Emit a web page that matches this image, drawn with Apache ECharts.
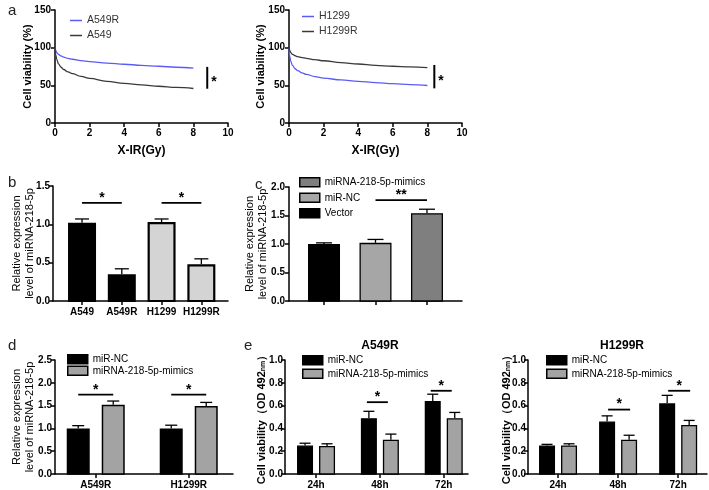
<!DOCTYPE html>
<html><head><meta charset="utf-8">
<script src="https://cdn.jsdelivr.net/npm/echarts@6/dist/echarts.min.js"></script>
<style>html,body{margin:0;padding:0;background:#fff}#c{width:709px;height:490px}</style>
</head><body><div id="c"></div>
<script>
// ---------- DATA ----------
// Panel a: dose (Gy) and cell viability (%)
const doseX = [0, 0.05, 0.1, 0.2, 0.35, 0.5, 0.75, 1, 1.5, 2, 3, 4, 5, 6, 7, 8];
const a549R = [100, 96, 93.5, 91, 89, 87.5, 85.8, 84.6, 82.8, 81.6, 79.6, 78, 76.6, 75.3, 74, 72.8];
const a549  = [100, 90, 84.5, 78.5, 74, 71, 67.8, 65.5, 61.8, 59.2, 55.3, 52.5, 50.5, 48.8, 47.2, 45.8];
const h1299 = [100, 88, 82, 76.5, 72, 69.5, 66.5, 64.5, 61.6, 59.6, 57.2, 55.3, 53.7, 52.3, 51, 49.8];
const h1299R = [100, 96, 93.5, 91, 89.3, 88, 86.8, 85.8, 84, 82.6, 80.2, 78.3, 76.6, 75.3, 74.4, 73.6];
const aSigLeft = [8.8, 74.5, 45.5];   // x, y top, y bottom
const aSigRight = [8.4, 77, 46];

// Panel b
const bCats = ['A549', 'A549R', 'H1299', 'H1299R'];
const bVals = [1.02, 0.35, 1.03, 0.48];
const bErr  = [0.05, 0.07, 0.04, 0.07];
const bSig  = [[1, 2, 1.28], [3, 4, 1.28]];

// Panel c
const cNames = ['Vector', 'miR-NC', 'miRNA-218-5p-mimics'];
const cVals = [1.0, 1.02, 1.54];
const cErr  = [0.02, 0.06, 0.07];
const cSig  = [[2, 3, 1.77]];

// Panel d
const dCats = ['A549R', 'H1299R'];
const dNC = [1.0, 1.0];
const dNCErr = [0.06, 0.07];
const dMim = [1.52, 1.49];
const dMimErr = [0.08, 0.08];
const dSig = [[1, 1, 1.74], [2, 2, 1.74]];

// Panel e
const eCats = ['24h', '48h', '72h'];
const eLeftNC = [0.25, 0.49, 0.64];
const eLeftNCErr = [0.02, 0.06, 0.06];
const eLeftMim = [0.245, 0.30, 0.49];
const eLeftMimErr = [0.02, 0.05, 0.05];
const eLeftSig = [[2, 2, 0.63], [3, 3, 0.73]];
const eRightNC = [0.25, 0.46, 0.62];
const eRightNCErr = [0.01, 0.05, 0.07];
const eRightMim = [0.25, 0.30, 0.43];
const eRightMimErr = [0.015, 0.04, 0.04];
const eRightSig = [[2, 2, 0.565], [3, 3, 0.73]];

// ---------- STYLE ----------
const FF = 'Liberation Sans, Arial, Helvetica, sans-serif';
const BLACK = '#000';
const BLUE = '#5b5bf5';
const DARK = '#3a3a3a';

function axisBase(margin) {
  return {
    axisLine: { show: true, lineStyle: { color: BLACK, width: 1.5 } },
    axisTick: { show: true, length: 4, lineStyle: { color: BLACK, width: 1.5 } },
    axisLabel: { color: BLACK, fontFamily: FF, fontWeight: 'bold', fontSize: 10, margin: margin },
    splitLine: { show: false }
  };
}
function yAxis(grid, max, interval, name, gap, bold, fmt, margin) {
  const a = axisBase(margin);
  return Object.assign(a, {
    type: 'value', gridIndex: grid, min: 0, max: max, interval: interval,
    name: name, nameLocation: 'middle', nameGap: gap, nameMoveOverlap: false,
    nameTextStyle: { color: BLACK, fontFamily: FF, fontWeight: bold ? 'bold' : 'normal', fontSize: 11, lineHeight: 12.5 },
    axisLabel: Object.assign(a.axisLabel, { formatter: fmt || null })
  });
}
function catValueAxis(grid, min, max, cats, showLabels) {
  const a = axisBase(6);
  const vals = cats.map((c, i) => i + 1);
  return Object.assign(a, {
    type: 'value', gridIndex: grid, min: min, max: max,
    axisTick: Object.assign(a.axisTick, { customValues: vals }),
    axisLabel: Object.assign(a.axisLabel, {
      show: showLabels, customValues: vals, fontSize: 10,
      formatter: v => cats[Math.round(v) - 1] || ''
    })
  });
}

function barRender(offset, width, capW, fill, bw) {
  return function (params, api) {
    const x = api.value(0), y = api.value(1), e = api.value(2);
    const top = api.coord([x, y]);
    const base = api.coord([x, 0]);
    const et = api.coord([x, y + e]);
    const cx = top[0] + offset;
    return {
      type: 'group', children: [
        { type: 'line', shape: { x1: cx, y1: top[1], x2: cx, y2: et[1] }, style: { stroke: BLACK, lineWidth: 1.3 } },
        { type: 'line', shape: { x1: cx - capW / 2, y1: et[1], x2: cx + capW / 2, y2: et[1] }, style: { stroke: BLACK, lineWidth: 1.3 } },
        { type: 'rect', shape: { x: cx - width / 2 + bw / 2, y: top[1] + bw / 2, width: width - bw, height: base[1] - top[1] - bw / 2 },
          style: { fill: fill, stroke: BLACK, lineWidth: bw } }
      ]
    };
  };
}
// one series, each value at category position i+1
function barSeries(name, grid, vals, errs, offset, width, capW, fill, bw) {
  return {
    type: 'custom', name: name, xAxisIndex: grid, yAxisIndex: grid,
    itemStyle: { color: fill, borderColor: BLACK, borderWidth: bw },
    encode: { x: 0, y: 1 },
    data: vals.map((v, i) => [i + 1, v, errs[i]]),
    renderItem: barRender(offset, width, capW, fill, bw), clip: false, silent: true
  };
}
// one series holding only the bar at category position idx+1
function singleBarSeries(name, grid, vals, errs, idx, width, capW, fill, bw) {
  return {
    type: 'custom', name: name, xAxisIndex: grid, yAxisIndex: grid,
    itemStyle: { color: fill, borderColor: BLACK, borderWidth: bw },
    encode: { x: 0, y: 1 },
    data: [[idx + 1, vals[idx], errs[idx]]],
    renderItem: barRender(0, width, capW, fill, bw), clip: false, silent: true
  };
}
function sigSeries(grid, data, off1, off2, label, fs) {
  return {
    type: 'custom', name: 'sig' + grid, xAxisIndex: grid, yAxisIndex: grid,
    encode: { x: [0, 1], y: 2 }, data: data, clip: false, silent: true,
    renderItem: function (params, api) {
      const p1 = api.coord([api.value(0), api.value(2)]);
      const p2 = api.coord([api.value(1), api.value(2)]);
      const x1 = p1[0] + off1, x2 = p2[0] + off2;
      return {
        type: 'group', children: [
          { type: 'line', shape: { x1: x1, y1: p1[1], x2: x2, y2: p1[1] }, style: { stroke: BLACK, lineWidth: 1.8 } },
          { type: 'text', style: { text: label, x: (x1 + x2) / 2, y: p1[1] + 2, align: 'center', verticalAlign: 'bottom',
            font: 'bold ' + (fs || 14) + 'px ' + FF, fill: BLACK } }
        ]
      };
    }
  };
}
function vSigSeries(grid, d) {
  return {
    type: 'custom', name: 'vsig' + grid, xAxisIndex: grid, yAxisIndex: grid,
    encode: { x: 0, y: [1, 2] }, data: [d], clip: false, silent: true,
    renderItem: function (params, api) {
      const p1 = api.coord([api.value(0), api.value(1)]);
      const p2 = api.coord([api.value(0), api.value(2)]);
      return {
        type: 'group', children: [
          { type: 'line', shape: { x1: p1[0], y1: p1[1], x2: p2[0], y2: p2[1] }, style: { stroke: BLACK, lineWidth: 2 } },
          { type: 'text', style: { text: '*', x: p1[0] + 4, y: (p1[1] + p2[1]) / 2 + 4, align: 'left', verticalAlign: 'middle',
            font: 'bold 14px ' + FF, fill: BLACK } }
        ]
      };
    }
  };
}
function lineSeries(name, grid, ys, color) {
  return {
    type: 'line', name: name, xAxisIndex: grid, yAxisIndex: grid, smooth: 0.4, smoothMonotone: 'x',
    symbol: 'none', lineStyle: { color: color, width: 1.3 }, itemStyle: { color: color },
    data: doseX.map((x, i) => [x, ys[i]]), silent: true
  };
}
function lineXAxis(grid) {
  const a = axisBase(5);
  return Object.assign(a, {
    type: 'value', gridIndex: grid, min: 0, max: 10, interval: 2,
    name: 'X-IR(Gy)', nameLocation: 'middle', nameGap: 22, nameMoveOverlap: false,
    nameTextStyle: { color: BLACK, fontFamily: FF, fontWeight: 'bold', fontSize: 12 }
  });
}
function barLegend(left, top, gap, items) {
  return {
    left: left, top: top, orient: 'vertical', itemGap: gap, itemWidth: 20, itemHeight: 9, icon: 'rect',
    selectedMode: false, padding: 0,
    textStyle: { color: BLACK, fontFamily: FF, fontSize: 10 },
    data: items.map(it => ({ name: it[0], itemStyle: { color: it[1], borderColor: BLACK, borderWidth: 1.5 } }))
  };
}
function lineLegend(left, top, names, colors) {
  return {
    left: left, top: top, orient: 'vertical', itemGap: 4, itemWidth: 12, itemHeight: 1.5, icon: 'rect',
    selectedMode: false, padding: 0,
    textStyle: { color: '#333', fontFamily: FF, fontSize: 10.5 },
    data: names.map((n, i) => ({ name: n, itemStyle: { color: colors[i] } }))
  };
}

const fmt1 = v => v.toFixed(1);
const eName = '{a|Cell viability（OD 492}{s|nm}{a|）}';
const eNameStyle = { rich: { a: { fontFamily: FF, fontWeight: 'bold', fontSize: 11, color: BLACK },
                             s: { fontFamily: FF, fontWeight: 'bold', fontSize: 7, color: BLACK, verticalAlign: 'bottom', padding: [4, 0, 0, 0] } } };
const relName = 'Relative expression\nlevel of miRNA-218-5p';

const GREY_LIGHT = '#d4d4d4';
const GREY_NC = '#a6a6a6';
const GREY_MIM = '#7f7f7f';
const GREY_E = '#a3a3a3';

const yE1 = yAxis(5, 1.0, 0.2, eName, 18, true, fmt1, 2);
yE1.nameTextStyle = eNameStyle;
const yE2 = yAxis(6, 1.0, 0.2, eName, 16, true, fmt1, 2);
yE2.nameTextStyle = eNameStyle;

const letterStyle = { fontFamily: FF, fontWeight: 'normal', fontSize: 15, color: '#222' };
const panelTitle = { fontFamily: FF, fontWeight: 'bold', fontSize: 12, color: BLACK };

const option = {
  animation: false,
  backgroundColor: '#fff',
  title: [
    { text: 'a', left: 3, top: -2, textStyle: letterStyle },
    { text: 'b', left: 3, top: 170, textStyle: letterStyle },
    { text: 'c', left: 250, top: 172, textStyle: letterStyle },
    { text: 'd', left: 3, top: 333, textStyle: letterStyle },
    { text: 'e', left: 239, top: 333, textStyle: letterStyle },
    { text: 'A549R', left: 375, top: 335, textAlign: 'center', textStyle: panelTitle },
    { text: 'H1299R', left: 617, top: 335, textAlign: 'center', textStyle: panelTitle }
  ],
  grid: [
    { left: 55, top: 10, width: 173, height: 113 },
    { left: 289, top: 10, width: 173, height: 113 },
    { left: 53, top: 186, width: 175, height: 115 },
    { left: 289, top: 187, width: 173, height: 114 },
    { left: 55, top: 360, width: 178, height: 115 },
    { left: 285, top: 360, width: 183, height: 115 },
    { left: 528, top: 360, width: 179, height: 115 }
  ],
  xAxis: [
    lineXAxis(0),
    lineXAxis(1),
    catValueAxis(2, 0.27, 4.67, bCats, true),
    catValueAxis(3, 0.32, 3.68, cNames, false),
    catValueAxis(4, 0.562, 2.476, dCats, true),
    catValueAxis(5, 0.514, 3.38, eCats, true),
    catValueAxis(6, 0.5, 3.48, eCats, true)
  ],
  yAxis: [
    yAxis(0, 150, 50, 'Cell viability (%)', 21, true, null, 4),
    yAxis(1, 150, 50, 'Cell viability (%)', 22, true, null, 4),
    yAxis(2, 1.5, 0.5, relName, 17, false, fmt1, 3),
    yAxis(3, 2.0, 0.5, relName, 20, false, fmt1, 4),
    yAxis(4, 2.5, 0.5, relName, 19, false, fmt1, 3),
    yE1,
    yE2
  ],
  legend: [
    lineLegend(70, 15, ['A549R', 'A549'], [BLUE, DARK]),
    lineLegend(302, 11, ['H1299', 'H1299R'], [BLUE, DARK]),
    barLegend(299, 177, 5, [['miRNA-218-5p-mimics', GREY_MIM], ['miR-NC', GREY_NC], ['Vector', BLACK]]),
    barLegend(67, 354, 1, [['miR-NC', BLACK], ['miRNA-218-5p-mimics', GREY_E]]),
    barLegend(302, 355, 3, [['miR-NC', BLACK], ['miRNA-218-5p-mimics', GREY_E]]),
    barLegend(546, 355, 3, [['miR-NC', BLACK], ['miRNA-218-5p-mimics', GREY_E]])
  ],
  series: [
    lineSeries('A549R', 0, a549R, BLUE),
    lineSeries('A549', 0, a549, DARK),
    vSigSeries(0, aSigLeft),
    lineSeries('H1299', 1, h1299, BLUE),
    lineSeries('H1299R', 1, h1299R, DARK),
    vSigSeries(1, aSigRight),
    // b
    singleBarSeries('b-A549', 2, bVals, bErr, 0, 28, 14, BLACK, 2.2),
    singleBarSeries('b-A549R', 2, bVals, bErr, 1, 28, 14, BLACK, 2.2),
    singleBarSeries('b-H1299', 2, bVals, bErr, 2, 28, 14, GREY_LIGHT, 2.2),
    singleBarSeries('b-H1299R', 2, bVals, bErr, 3, 28, 14, GREY_LIGHT, 2.2),
    sigSeries(2, bSig, 0, 0, '*'),
    // c
    singleBarSeries('Vector', 3, cVals, cErr, 0, 32, 16, BLACK, 1.3),
    singleBarSeries('miR-NC', 3, cVals, cErr, 1, 32, 16, GREY_NC, 1.3),
    singleBarSeries('miRNA-218-5p-mimics', 3, cVals, cErr, 2, 32, 16, GREY_MIM, 1.3),
    sigSeries(3, cSig, 0, 0, '**'),
    // d
    barSeries('miR-NC', 4, dNC, dNCErr, -17.5, 23, 12, BLACK, 1.5),
    barSeries('miRNA-218-5p-mimics', 4, dMim, dMimErr, 17.5, 23, 12, GREY_E, 1.5),
    sigSeries(4, dSig, -17.5, 17.5, '*'),
    // e left
    barSeries('miR-NC', 5, eLeftNC, eLeftNCErr, -11, 16, 11, BLACK, 1.3),
    barSeries('miRNA-218-5p-mimics', 5, eLeftMim, eLeftMimErr, 11, 16, 11, GREY_E, 1.3),
    sigSeries(5, eLeftSig, -13, 8, '*'),
    // e right
    barSeries('miR-NC', 6, eRightNC, eRightNCErr, -11, 16, 11, BLACK, 1.3),
    barSeries('miRNA-218-5p-mimics', 6, eRightMim, eRightMimErr, 11, 16, 11, GREY_E, 1.3),
    sigSeries(6, eRightSig, -10, 12, '*')
  ]
};

const chart = echarts.init(document.getElementById('c'), null, { renderer: 'canvas' });
chart.setOption(option);
</script>
</body></html>
